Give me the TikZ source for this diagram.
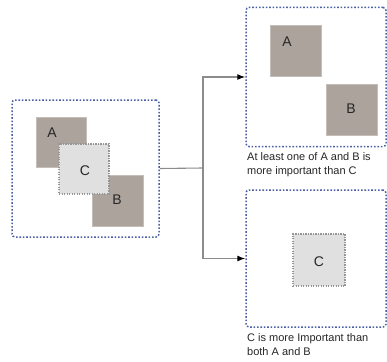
\documentclass[tikz,border=0pt]{standalone}
\usepackage{fontspec}
\setmainfont{Liberation Sans}
\usetikzlibrary{arrows.meta}
\definecolor{frameblue}{RGB}{75,95,165}
\definecolor{sqfill}{RGB}{172,163,157}
\definecolor{sqedge}{RGB}{195,190,186}
\definecolor{cfill}{RGB}{224,224,224}
\definecolor{cedge}{RGB}{150,150,150}
\definecolor{linegray}{RGB}{140,140,140}
\tikzset{
  x=1pt, y=-1pt,
  frame/.style={draw=frameblue, line width=1.5pt, dash pattern=on 1.6pt off 1.8pt, rounded corners=3pt},
  sq/.style={draw=sqedge, fill=sqfill, line width=0.8pt},
  csq/.style={draw=cedge, fill=cfill, line width=1.2pt, dash pattern=on 1.2pt off 1.3pt},
  letter/.style={font=\fontsize{14}{16}\selectfont, text=black!85},
  caption/.style={font=\fontsize{11}{14}\selectfont, align=left, anchor=north west, inner sep=0pt, text=black!85},
  conn/.style={draw=linegray, line width=1.1pt},
  tip/.style={-{Latex[length=8pt,width=6pt,black]}}
}
\begin{document}
\begin{tikzpicture}
\useasboundingbox (0,0) rectangle (387,361);
% left frame
\node[frame, minimum width=147pt, minimum height=137pt, inner sep=0pt] (L) at (85.5,168.5) {};
\node[sq, minimum size=50pt, inner sep=0pt] (A1) at (61,142) {};
\node[sq, minimum size=51pt, inner sep=0pt] (B1) at (117.5,201) {};
\node[csq, minimum size=50pt, inner sep=0pt] (C1) at (84,169) {};
\node[letter] at (52,133) {A};
\node[letter] at (85,171) {C};
\node[letter] at (117,200) {B};
% top right frame
\node[frame, minimum width=140pt, minimum height=139pt, inner sep=0pt] (T) at (316,77) {};
\node[sq, minimum size=51pt, inner sep=0pt] (A2) at (295.5,51) {};
\node[sq, minimum size=51pt, inner sep=0pt] (B2) at (351.5,109.5) {};
\node[letter] at (287,42) {A};
\node[letter] at (351,109) {B};
\node[caption] (capT) at (247,152) {At least one of A and B is\\more important than C};
% bottom right frame
\node[frame, minimum width=140pt, minimum height=137pt, inner sep=0pt] (R) at (316,258.5) {};
\node[csq, minimum size=52pt, inner sep=0pt] (C2) at (319,260) {};
\node[letter] at (319,262) {C};
\node[caption] (capB) at (247,333) {C is more Important than\\both A and B};
% connectors
\coordinate (J) at (203,168);
\draw[conn] (L.east) -- (J);
\draw[conn, tip] (J) |- (T.west);
\draw[conn, tip] (J) |- (R.west);
\end{tikzpicture}
\end{document}
